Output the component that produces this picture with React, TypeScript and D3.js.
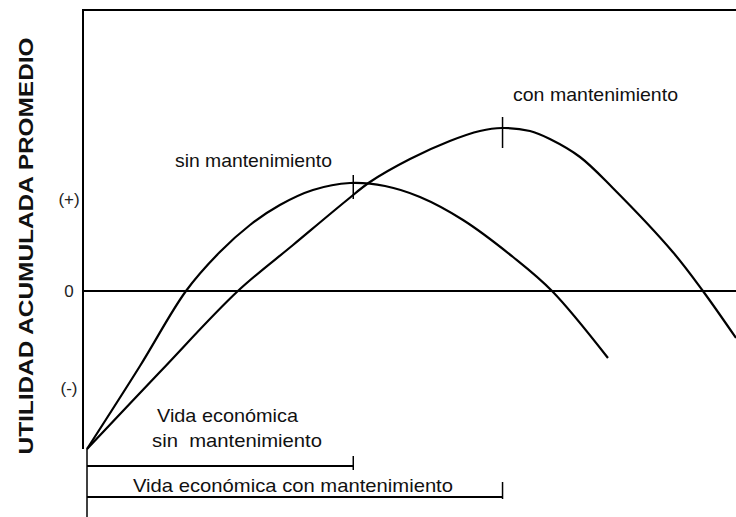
import React from 'react';
import { scaleLinear, line, curveCatmullRom } from 'd3';

// años (eje x) y utilidad acumulada promedio (eje y)
const sinX = [0, 1.97, 3.68, 4.94, 6.06, 7.17, 8.4, 9.78, 11.08, 12.38, 13.98, 15.84, 17.29, 19.37];
const sinY = [-7.9, -3.75, 0, 1.95, 3.3, 4.3, 5.05, 5.4, 5.25, 4.7, 3.55, 1.7, 0, -3.35];

const conX = [0, 2.71, 5.61, 7.66, 9.67, 10.52, 12.01, 13.49, 14.61, 15.43, 16.47, 17.21, 18.33, 19.55, 21.78, 22.9, 24.13];
const conY = [-7.9, -4.05, 0, 2.3, 4.55, 5.45, 6.6, 7.5, 8.0, 8.15, 8.0, 7.6, 6.7, 5.15, 1.95, 0, -2.35];

// vida económica (años)
const sinLife = 9.9;
const conLife = 15.45;

const yTickLabels = ['(+)', '0', '(-)'];
const yTickValues = [4.6, 0, -4.85];

const W = 736;
const H = 517;

const App = () => {
  const xScale = scaleLinear().domain([0, 24.13]).range([87, 736]);
  const yScale = scaleLinear().domain([-11.3, 14.1]).range([517, 9]);

  const curve = line<[number, number]>()
    .x(d => xScale(d[0]))
    .y(d => yScale(d[1]))
    .curve(curveCatmullRom.alpha(0.5));

  const sinPath = curve(sinX.map((x, i) => [x, sinY[i]]));
  const conPath = curve(conX.map((x, i) => [x, conY[i]]));

  const axisX = xScale(0) - 4;
  const x0 = xScale(0);
  const startY = yScale(sinY[0]);
  const sinPeakY = yScale(Math.max(...sinY));
  const conPeakY = yScale(Math.max(...conY));

  const font = "'Liberation Sans', Arial, sans-serif";

  return (
    <svg width={W} height={H} style={{ position: 'absolute', left: 0, top: 0, background: '#fff' }}>
      {/* marco */}
      <line x1={axisX} x2={W} y1={yScale(14.1) + 1} y2={yScale(14.1) + 1} stroke="#000" strokeWidth={2} />
      <line x1={axisX} x2={axisX} y1={yScale(14.1)} y2={startY} stroke="#000" strokeWidth={2} />
      <line x1={x0} x2={x0} y1={startY} y2={H} stroke="#000" strokeWidth={1.5} />
      <line x1={axisX} x2={W} y1={yScale(0)} y2={yScale(0)} stroke="#000" strokeWidth={2} />

      {/* título eje y */}
      <text
        transform="translate(33,246) rotate(-90)"
        textAnchor="middle"
        fontFamily={font}
        fontWeight="bold"
        fontSize={21}
        textLength={417}
        lengthAdjust="spacingAndGlyphs"
        fill="#111"
      >
        UTILIDAD ACUMULADA PROMEDIO
      </text>

      {yTickLabels.map((t, i) => (
        <text key={t} x={69} y={yScale(yTickValues[i]) + 6} textAnchor="middle" fontFamily={font} fontSize={17} fill="#222">
          {t}
        </text>
      ))}

      {/* curvas */}
      <path d={sinPath || ''} fill="none" stroke="#000" strokeWidth={2.2} />
      <path d={conPath || ''} fill="none" stroke="#000" strokeWidth={2.2} />

      {/* marcas de vida económica en los máximos */}
      <line x1={xScale(sinLife)} x2={xScale(sinLife)} y1={sinPeakY - 8} y2={sinPeakY + 16} stroke="#000" strokeWidth={1.5} />
      <line x1={xScale(conLife)} x2={xScale(conLife)} y1={conPeakY - 11} y2={conPeakY + 20} stroke="#000" strokeWidth={1.5} />

      <text x={175} y={167} fontFamily={font} fontSize={19} textLength={157} lengthAdjust="spacingAndGlyphs" fill="#111">
        sin mantenimiento
      </text>
      <text x={513} y={101} fontFamily={font} fontSize={19} textLength={165} lengthAdjust="spacingAndGlyphs" fill="#111">
        con mantenimiento
      </text>

      {/* barras de vida económica */}
      <text x={157} y={422} fontFamily={font} fontSize={19} textLength={141} lengthAdjust="spacingAndGlyphs" fill="#111">
        Vida económica
      </text>
      <text x={152} y={447} fontFamily={font} fontSize={19} textLength={170} lengthAdjust="spacingAndGlyphs" fill="#111" style={{ whiteSpace: 'pre' }}>
        sin  mantenimiento
      </text>
      <line x1={x0} x2={xScale(sinLife)} y1={466} y2={466} stroke="#000" strokeWidth={2} />
      <line x1={xScale(sinLife)} x2={xScale(sinLife)} y1={456} y2={470} stroke="#000" strokeWidth={1.5} />

      <text x={133} y={492} fontFamily={font} fontSize={19} textLength={320} lengthAdjust="spacingAndGlyphs" fill="#111">
        Vida económica con mantenimiento
      </text>
      <line x1={x0} x2={xScale(conLife)} y1={497} y2={497} stroke="#000" strokeWidth={2} />
      <line x1={xScale(conLife)} x2={xScale(conLife)} y1={482} y2={499} stroke="#000" strokeWidth={1.5} />
    </svg>
  );
};

export default App;
